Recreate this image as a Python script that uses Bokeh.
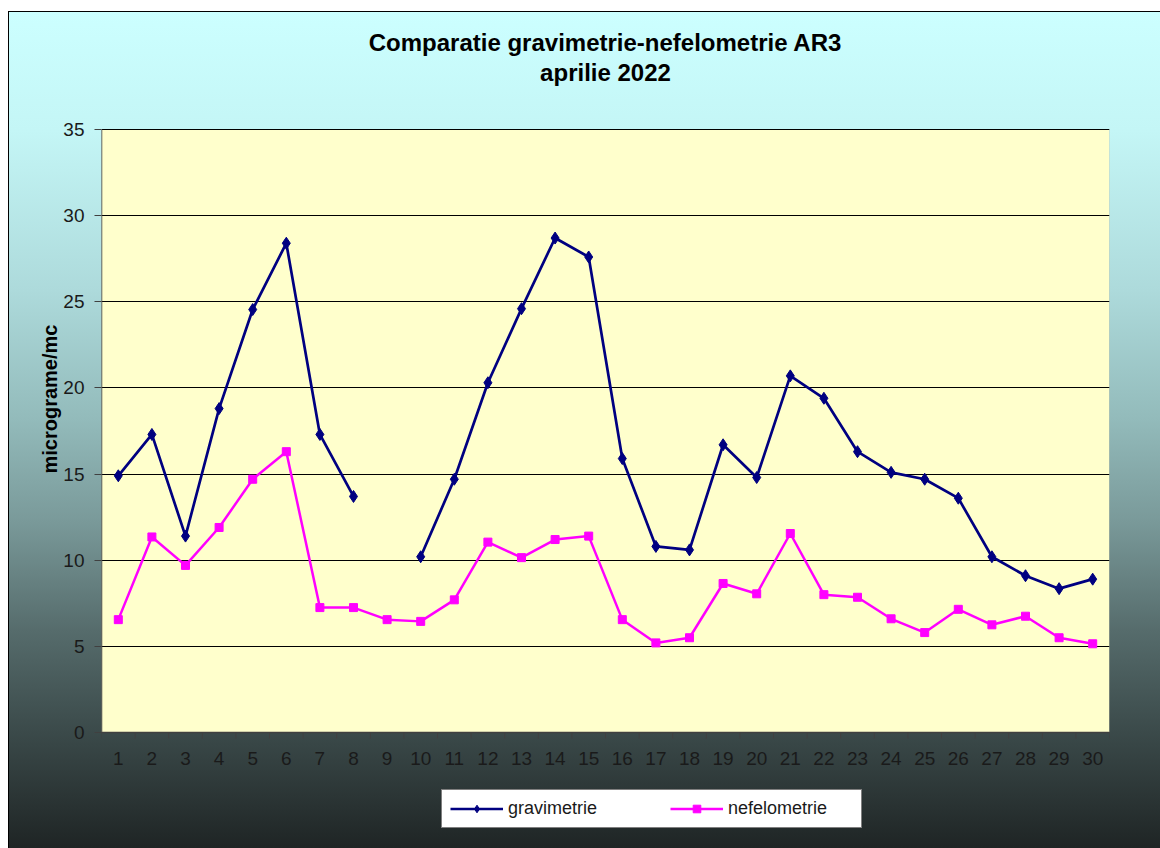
import math
from bokeh.plotting import figure
from bokeh.models import Range1d, FixedTicker, Title, Legend, LegendItem, BoxAnnotation
from bokeh.core.properties import value
from bokeh.embed import file_html
from bokeh.resources import INLINE

# ---- data ----
days = list(range(1, 31))
day_labels = [str(d) for d in days]
gravimetrie = [14.9, 17.3, 11.4, 18.8, 24.55, 28.4, 17.3, 13.7, float("nan"), 10.2,
               14.7, 20.3, 24.6, 28.7, 27.6, 15.9, 10.8, 10.6, 16.7, 14.8,
               20.7, 19.4, 16.3, 15.1, 14.7, 13.6, 10.2, 9.1, 8.35, 8.9]
nefelometrie = [6.55, 11.35, 9.7, 11.9, 14.7, 16.3, 7.25, 7.25, 6.55, 6.45,
                7.7, 11.05, 10.15, 11.2, 11.4, 6.55, 5.2, 5.5, 8.65, 8.05,
                11.55, 8.0, 7.85, 6.6, 5.8, 7.15, 6.25, 6.75, 5.5, 5.15]
y_ticks = [0, 5, 10, 15, 20, 25, 30, 35]
title_line1 = "Comparatie gravimetrie-nefelometrie AR3"
title_line2 = "aprilie 2022"
y_label = "micrograme/mc"
series_names = ["gravimetrie", "nefelometrie"]

FONT = "Liberation Sans"

# ---- layout (pixels) ----
W, H = 1160, 848
LEFT, RIGHT = 101, 51           # frame spans x 101..1109
PLOT_TOP, PLOT_BOTTOM = 129, 732  # page y of value 35 and value 0
Y_MIN, Y_MAX = y_ticks[0], y_ticks[-1]
upp = (Y_MAX - Y_MIN) / (PLOT_BOTTOM - PLOT_TOP)  # data units per pixel
X_MIN, X_MAX = days[0] - 0.5, days[-1] + 0.5

p = figure(width=W, height=H, output_backend="svg", toolbar_location=None,
           x_range=Range1d(X_MIN, X_MAX),
           y_range=Range1d(Y_MIN - (H - PLOT_BOTTOM) * upp, Y_MAX + PLOT_TOP * upp),
           min_border_left=LEFT, min_border_right=RIGHT, min_border_top=0,
           min_border_bottom=0, title=None, x_axis_type=None,
           background_fill_color=None, border_fill_color=None,
           outline_line_color=None)

p.styles = {
    "background": (
        "linear-gradient(#000000, #000000) 8px 11px / 1px 100% no-repeat, "
        "linear-gradient(#000000, #000000) 8px 11px / 100% 1px no-repeat, "
        "linear-gradient(to bottom, #CCFFFF 0%, #C4F6F6 14%, #ADDADB 33%, "
        "#93BBBB 48%, #7A9A9A 60%, #566C6C 73%, #3B4A4A 85%, #1C2121 100%) "
        "8px 11px / 100% 100% no-repeat, #FFFFFF"
    ),
}

# plot area (light yellow)
plot_area = BoxAnnotation(left=X_MIN, right=X_MAX, bottom=Y_MIN, top=Y_MAX,
                          fill_color="#FFFFCC", fill_alpha=1.0,
                          line_color="#808080", line_width=1, level="image")
p.add_layout(plot_area)

# grid
p.ygrid.grid_line_color = "#000000"
p.ygrid.grid_line_width = 1
p.ygrid.ticker = FixedTicker(ticks=y_ticks)

# y axis
yax = p.yaxis[0]
yax.ticker = FixedTicker(ticks=y_ticks)
yax.minor_tick_line_color = None
yax.major_tick_in = 0
yax.major_tick_out = 7
yax.major_label_standoff = 10
yax.major_label_text_font = FONT
yax.major_label_text_font_size = "19px"
yax.major_label_text_color = "#1a1a1a"
yax.axis_line_color = None
yax.major_tick_line_color = "#404040"

# left axis line, bottom axis line and category-boundary ticks
p.segment(x0=[X_MIN], y0=[Y_MIN], x1=[X_MIN], y1=[Y_MAX], line_color="#404040", line_width=1.5)
p.segment(x0=[X_MIN], y0=[Y_MIN], x1=[X_MAX], y1=[Y_MIN], line_color="#404040", line_width=1.5)
bounds = [d - 0.5 for d in days] + [days[-1] + 0.5]
p.segment(x0=bounds, y0=[Y_MIN] * len(bounds), x1=bounds,
          y1=[Y_MIN - 6 * upp] * len(bounds), line_color="#404040", line_width=1)

# x tick labels
p.text(x=days, y=[Y_MIN] * len(days), text=day_labels, y_offset=26,
       text_align="center", text_baseline="middle", text_font=value(FONT),
       text_font_size="19px", text_color="#1a1a1a")

# title lines
x_mid = (X_MIN + X_MAX) / 2
p.text(x=[x_mid], y=[Y_MAX], text=[title_line1], y_offset=-(PLOT_TOP - 42),
       text_align="center", text_baseline="middle", text_font=value(FONT),
       text_font_size="24px", text_font_style="bold", text_color="#000000")
p.text(x=[x_mid], y=[Y_MAX], text=[title_line2], y_offset=-(PLOT_TOP - 72),
       text_align="center", text_baseline="middle", text_font=value(FONT),
       text_font_size="24px", text_font_style="bold", text_color="#000000")

# y axis title (rotated, outside the frame)
ytitle = Title(text=y_label, align="left", offset=H - 473, standoff=0,
               text_font=FONT, text_font_size="20px", text_font_style="bold",
               text_color="#000000")
p.add_layout(ytitle, "left")

# series
g_line = p.line(days, gravimetrie, line_color="#000080", line_width=2.7)
g_pts = p.scatter(days, gravimetrie, marker="diamond", size=12,
                  fill_color="#000080", line_color="#000080")
n_line = p.line(days, nefelometrie, line_color="#FF00FF", line_width=2.5)
n_pts = p.scatter(days, nefelometrie, marker="square", size=8,
                  fill_color="#FF00FF", line_color="#FF00FF")

legend = Legend(items=[LegendItem(label=series_names[0], renderers=[g_line, g_pts]),
                       LegendItem(label=series_names[1], renderers=[n_line, n_pts])],
                orientation="horizontal", location=(441 - LEFT, 20),
                glyph_width=53, glyph_height=19, label_standoff=5,
                label_text_font=FONT, label_text_font_size="18px",
                label_text_color="#1a1a1a", padding=8, spacing=37,
                border_line_color="#000000", border_line_width=1,
                background_fill_color="#FFFFFF", background_fill_alpha=1.0,
                margin=0)
legend.label_width = 125
p.add_layout(legend, "center")

open("out.html", "w").write(file_html(p, INLINE))
